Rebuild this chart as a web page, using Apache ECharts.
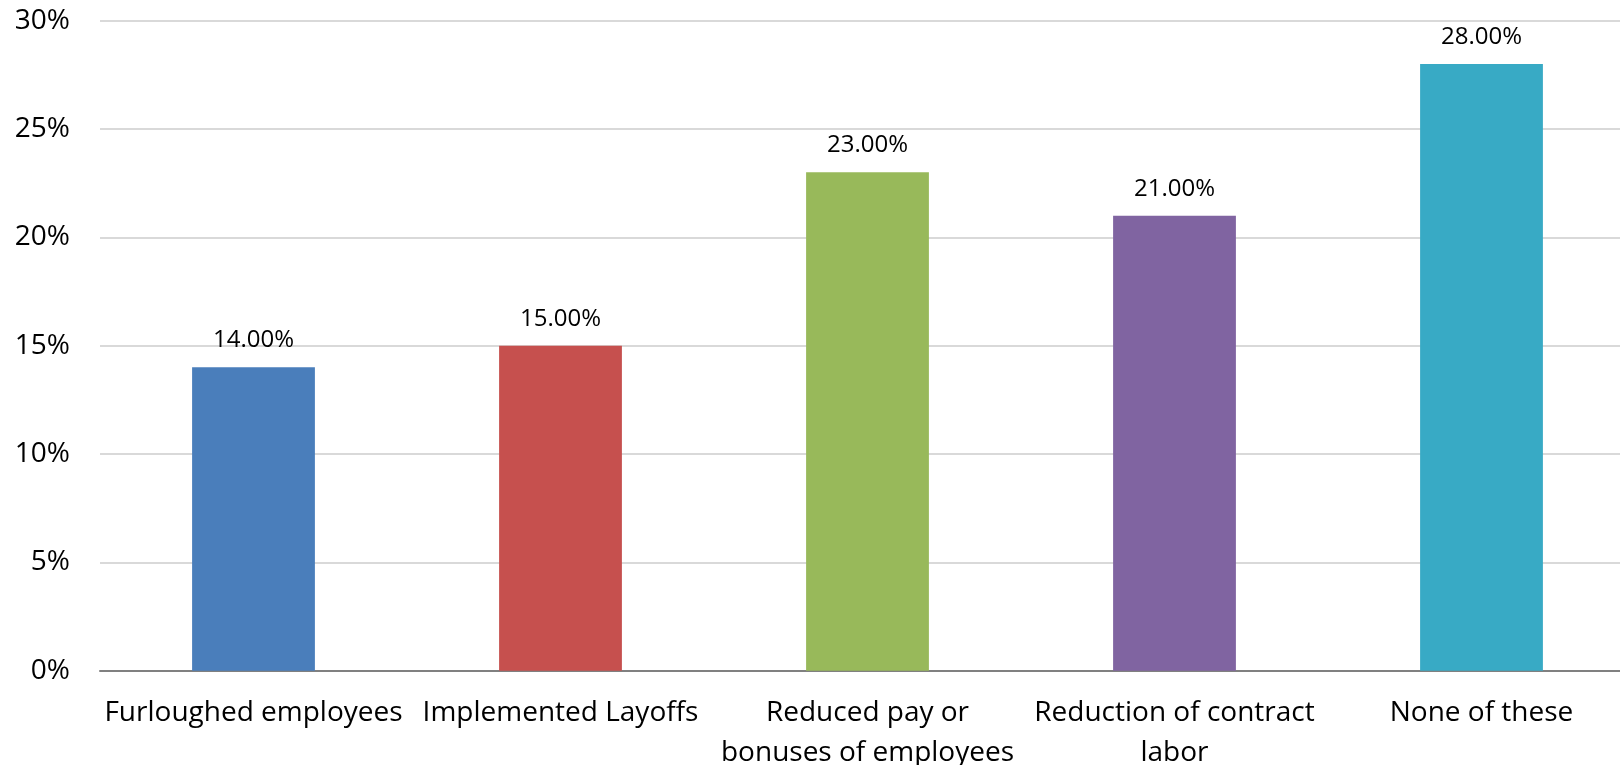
<!DOCTYPE html>
<html><head><meta charset="utf-8">
<script src="https://cdn.jsdelivr.net/npm/echarts@6/dist/echarts.min.js"></script>
<style>html,body{margin:0;padding:0;background:#fff}#c{width:1620px;height:765px}</style>
</head><body><div id="c"></div>
<script>
const categories = ["Furloughed employees", "Implemented Layoffs", "Reduced pay or\nbonuses of employees", "Reduction of contract\nlabor", "None of these"];
const values = [14, 15, 23, 21, 28];
const colors = ["#4A7EBB", "#C6504E", "#98B95A", "#8064A1", "#38AAC5"];
const yTicks = [0, 5, 10, 15, 20, 25, 30];

const FONT = "Open Sans";
const chart = echarts.init(document.getElementById('c'));
chart.setOption({
  animation: false,
  grid: { left: 100, right: -15, top: 20.7, bottom: 94.3, containLabel: false, outerBoundsMode: 'none' },
  xAxis: {
    type: 'category', data: categories,
    axisLine: { lineStyle: { color: '#808080', width: 2 } },
    axisTick: { show: false },
    axisLabel: { color: '#000', fontFamily: FONT, fontSize: 28, margin: 22, lineHeight: 40, interval: 0 }
  },
  yAxis: {
    type: 'value', min: yTicks[0], max: yTicks[yTicks.length - 1], interval: 5,
    axisLine: { show: false }, axisTick: { show: false },
    splitLine: { lineStyle: { color: '#D9D9D9', width: 2 } },
    axisLabel: { color: '#000', fontFamily: FONT, fontSize: 28, margin: 30, formatter: v => v + '%' }
  },
  series: [{
    type: 'bar', barWidth: '40%',
    data: values.map((v, i) => ({ value: v, itemStyle: { color: colors[i] } })),
    label: { show: true, position: 'top', distance: 15, color: '#000', fontFamily: FONT, fontSize: 24,
      formatter: p => p.value.toFixed(2) + '%' }
  }]
});
</script></body></html>
